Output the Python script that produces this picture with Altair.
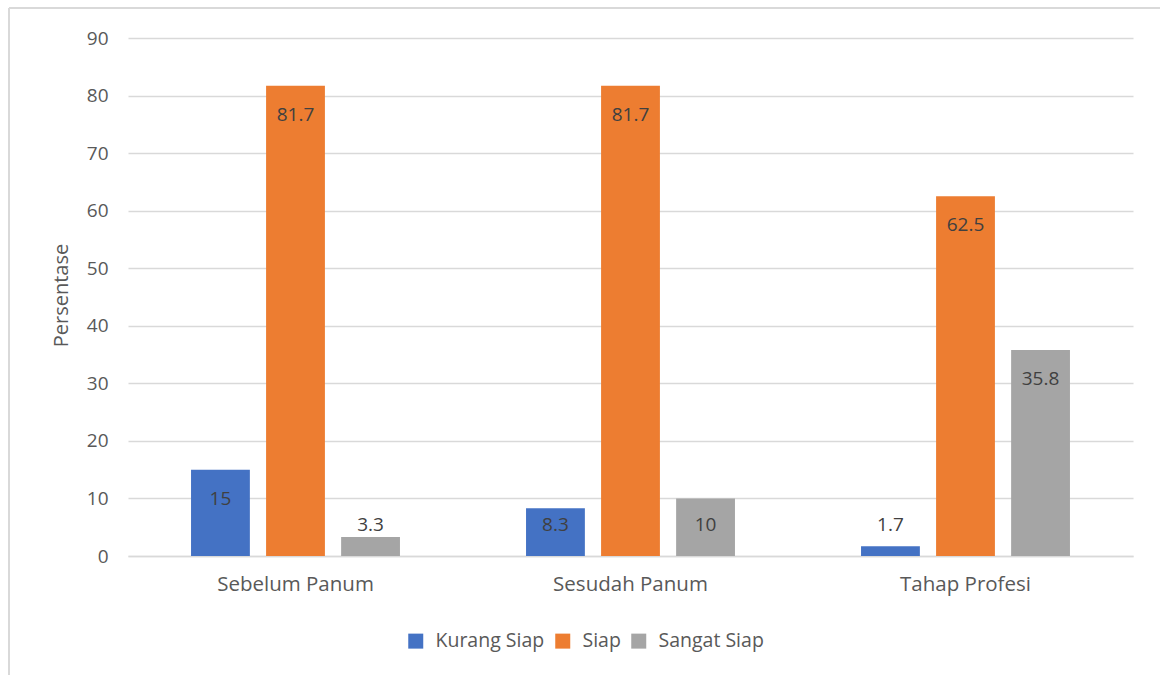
import altair as alt
import pandas as pd

categories = ["Sebelum Panum", "Sesudah Panum", "Tahap Profesi"]
series = ["Kurang Siap", "Siap", "Sangat Siap"]
kurang_siap = [15, 8.3, 1.7]
siap = [81.7, 81.7, 62.5]
sangat_siap = [3.3, 10, 35.8]
colors = ["#4472C4", "#ED7D31", "#A5A5A5"]
y_ticks = [0, 10, 20, 30, 40, 50, 60, 70, 80, 90]

rows = []
for s, vals in zip(series, [kurang_siap, siap, sangat_siap]):
    for c, v in zip(categories, vals):
        rows.append({"kategori": c, "seri": s, "nilai": v})
df = pd.DataFrame(rows)

FONT = "Open Sans"

x_enc = alt.X("kategori:N", sort=categories, title=None,
              scale=alt.Scale(paddingInner=0, paddingOuter=0),
              axis=alt.Axis(labelAngle=0, ticks=False, labelPadding=18,
                            labelFontSize=20.5, labelColor="#595959", labelFont=FONT,
                            domainColor="#D9D9D9", domainWidth=1.5, grid=False))
xo_enc = alt.XOffset("seri:N", sort=series,
                     scale=alt.Scale(paddingInner=0.216, paddingOuter=0.84))

base = alt.Chart(df)

bars = base.mark_bar().encode(
    x=x_enc,
    xOffset=xo_enc,
    y=alt.Y("nilai:Q", title="Persentase",
            scale=alt.Scale(domain=[0, 90], nice=False),
            axis=alt.Axis(values=y_ticks, ticks=False, domain=False, labelPadding=20,
                          labelFontSize=19, labelColor="#595959", labelFont=FONT,
                          gridColor="#D9D9D9", gridWidth=1.5,
                          titleFontSize=20, titleFontWeight="normal", titleColor="#595959",
                          titleFont=FONT, titleAngle=-90, titleX=-67, titleY=257,
                          titleAlign="center", titleBaseline="middle")),
    color=alt.Color("seri:N", sort=series,
                    scale=alt.Scale(domain=series, range=colors),
                    legend=alt.Legend(title=None, orient="none", direction="horizontal",
                                      legendX=278, legendY=593,
                                      symbolType="square", symbolSize=225,
                                      symbolStrokeWidth=0, labelFontSize=19.5,
                                      labelColor="#595959", labelFont=FONT,
                                      labelOffset=10, columnPadding=8)),
)

labels = base.transform_calculate(
    pos="max(datum.nilai - 5.05, 5.4)"
).mark_text(fontSize=19, font=FONT, color="#404040", baseline="middle").encode(
    x=alt.X("kategori:N", sort=categories),
    xOffset=alt.XOffset("seri:N", sort=series),
    y=alt.Y("pos:Q"),
    text=alt.Text("nilai:Q"),
)

left_border = alt.Chart(df).mark_rule(color="#D9D9D9", strokeWidth=2).encode(
    x=alt.value(-119), y=alt.value(-30), y2=alt.value(640))
top_border = alt.Chart(df).mark_rule(color="#D9D9D9", strokeWidth=2).encode(
    x=alt.value(-119), x2=alt.value(1032), y=alt.value(-30))

chart = alt.layer(bars, labels, left_border, top_border).properties(
    width=1005, height=518,
    autosize=alt.AutoSizeParams(type="none"),
    padding={"left": 128, "top": 38, "right": 27, "bottom": 119},
).configure(background="white", view=alt.ViewConfig(stroke="transparent"))

chart.save("out.html", embed_options={"renderer": "svg", "actions": False})
